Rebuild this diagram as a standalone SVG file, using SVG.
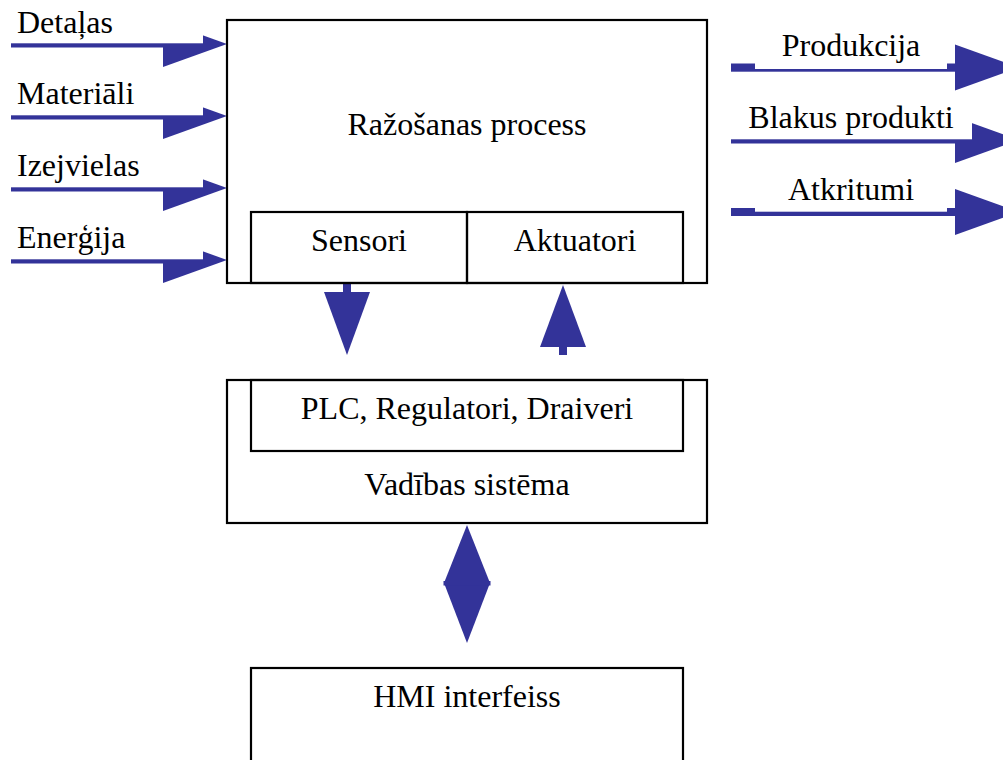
<svg xmlns="http://www.w3.org/2000/svg" width="1003" height="760" viewBox="0 0 1003 760">
<style>
.box{fill:none;stroke:#000;stroke-width:2.2}
.blue{fill:#333399}
.cover{fill:#fff}
text{font-family:"Liberation Serif","Times New Roman",serif;font-size:32px;fill:#000}
.c{text-anchor:middle}
</style>
<rect width="1003" height="760" fill="#fff"/>
<g id="connectors">
  <g id="in-detalas">
    <rect class="blue" x="11" y="40" width="153" height="7.5"/>
    <polygon class="blue" points="163,21 227,44 163,67"/>
    <rect class="cover" x="0" y="0" width="203" height="43.3"/>
  </g>
  <g id="in-materiali">
    <rect class="blue" x="11" y="112" width="153" height="7.5"/>
    <polygon class="blue" points="163,93 227,116 163,139"/>
    <rect class="cover" x="0" y="70" width="203" height="45.3"/>
  </g>
  <g id="in-izejvielas">
    <rect class="blue" x="11" y="184" width="153" height="7.5"/>
    <polygon class="blue" points="163,165 227,188 163,211"/>
    <rect class="cover" x="0" y="142" width="203" height="45.3"/>
  </g>
  <g id="in-energija">
    <rect class="blue" x="11" y="256" width="153" height="7.5"/>
    <polygon class="blue" points="163,237 227,260 163,283"/>
    <rect class="cover" x="0" y="214" width="203" height="45.3"/>
  </g>
  <g id="out-produkcija">
    <rect class="blue" x="731" y="63.5" width="225" height="8.2"/>
    <polygon class="blue" points="955,44.5 1019,67.5 955,90.5"/>
    <rect class="cover" x="755" y="20" width="192" height="49"/>
  </g>
  <g id="out-blakus">
    <rect class="blue" x="731" y="136" width="225" height="7.5"/>
    <polygon class="blue" points="955,117 1019,140 955,163"/>
    <rect class="cover" x="731" y="96" width="241" height="43.3"/>
  </g>
  <g id="out-atkritumi">
    <rect class="blue" x="731" y="208" width="225" height="8"/>
    <polygon class="blue" points="955,189 1019,212 955,235"/>
    <rect class="cover" x="755" y="164" width="192" height="47.7"/>
  </g>
  <g id="sensori-down">
    <rect class="blue" x="343" y="283" width="8" height="10"/>
    <polygon class="blue" points="324,292 370,292 347,355"/>
  </g>
  <g id="aktuatori-up">
    <polygon class="blue" points="563,285 540,347 586,347"/>
    <rect class="blue" x="559" y="346" width="8" height="9"/>
  </g>
  <g id="hmi-link">
    <polygon class="blue" points="467,525 490,583 467,643 444,583"/>
    <rect class="blue" x="443.5" y="581" width="47" height="4.5"/>
  </g>
</g>
<g id="labels-in">
  <text x="17" y="33">Detaļas</text>
  <text x="17" y="104">Materiāli</text>
  <text x="17" y="176">Izejvielas</text>
  <text x="17" y="248">Enerģija</text>
</g>
<g id="labels-out">
  <text class="c" x="851" y="56">Produkcija</text>
  <text class="c" x="851" y="128">Blakus produkti</text>
  <text class="c" x="851" y="200">Atkritumi</text>
</g>
<g id="process">
  <rect class="box" x="227" y="20" width="480" height="263"/>
  <text class="c" x="467" y="135">Ražošanas process</text>
</g>
<g id="sensori">
  <rect class="box" x="251" y="212" width="216" height="71"/>
  <text class="c" x="359" y="251">Sensori</text>
</g>
<g id="aktuatori">
  <rect class="box" x="467" y="212" width="216" height="71"/>
  <text class="c" x="575" y="251">Aktuatori</text>
</g>
<g id="vadibas">
  <rect class="box" x="227" y="380" width="480" height="143"/>
  <text class="c" x="467" y="495">Vadības sistēma</text>
</g>
<g id="plc">
  <rect class="box" x="251" y="380" width="432" height="71"/>
  <text class="c" x="467" y="419">PLC, Regulatori, Draiveri</text>
</g>
<g id="hmi">
  <rect class="box" x="251" y="668" width="432" height="120"/>
  <text class="c" x="467" y="707">HMI interfeiss</text>
</g>
</svg>
